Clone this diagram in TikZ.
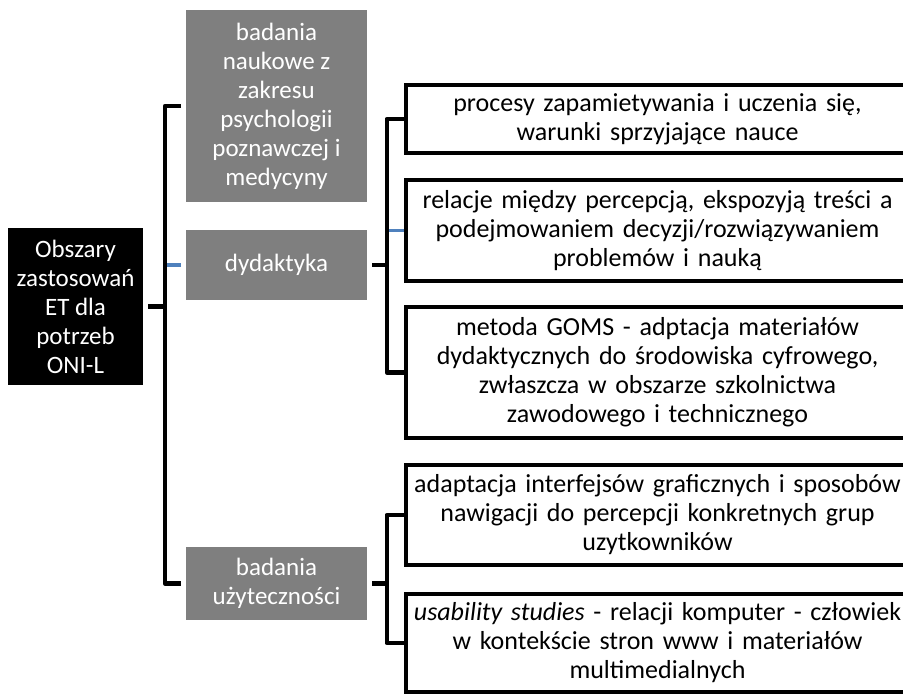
\documentclass[tikz,border=0pt]{standalone}
\usepackage{fontspec}
\setmainfont{Carlito}
\usepackage{xcolor}
\usepackage{tikz}
\definecolor{areagray}{HTML}{7F7F7F}
\definecolor{tickblue}{HTML}{4F81BD}
\tikzset{every node/.style={font=\fontsize{25}{29}\selectfont,align=center,inner sep=2pt},
    rootbox/.style={fill=black,text=white,minimum width=135pt,minimum height=157pt,outer sep=5pt},
    areabox/.style={fill=areagray,text=white,minimum width=181pt,outer sep=5pt},
    itembox/.style={draw,line width=4.5pt,minimum width=503pt,text width=495pt,
        font=\fontsize{26}{29}\selectfont},
    link/.style={draw,line width=4.5pt,line join=round},
    bluelink/.style={draw=tickblue,line width=3.5pt}}

\begin{document}
\begin{tikzpicture}[x=1pt,y=-1pt]
            \useasboundingbox (0,0) rectangle (903,694);
            \node[rootbox] (root) at (75.5,306.5) {Obszary\\zastosowań\\ET dla\\potrzeb\\ONI-L};
            \node[areabox,minimum height=192pt] (badania) at (276.5,106) {badania\\naukowe z\\zakresu\\psychologii\\poznawczej i\\medycyny};
            \node[areabox,minimum height=70pt] (dydaktyka) at (276.5,265) {dydaktyka};
            \node[areabox,minimum height=73pt] (uzytecznosc) at (276.5,583.5) {badania\\użyteczności};
            \node[itembox,minimum height=68pt] (proc) at (657.5,119) {procesy zapamietywania i uczenia się,\\warunki sprzyjające nauce};
            \node[itembox,minimum height=101pt] (rel) at (657.5,230.5) {relacje między percepcją, ekspozyją treści a\\podejmowaniem decyzji/rozwiązywaniem\\problemów i nauką};
            \node[itembox,minimum height=131pt] (goms) at (657.5,372.5) {metoda GOMS - adptacja materiałów\\dydaktycznych do środowiska cyfrowego,\\zwłaszcza w obszarze szkolnictwa\\zawodowego i technicznego};
            \node[itembox,minimum height=100pt] (interf) at (657.5,515) {adaptacja interfejsów graficznych i sposobów\\nawigacji do percepcji konkretnych grup\\uzytkowników};
            \node[itembox,minimum height=98pt] (usab) at (657.5,643) {\textit{usability studies} - relacji komputer - człowiek\\w kontekście stron www i materiałów\\multimedialnych};
            \path[bluelink] (dydaktyka.west) -- ++(-16,0);
            \path[bluelink] (rel.west) -- ++(-17,0);
            \path[link] (badania.west) -- ++(-16,0) coordinate (j1) |- (uzytecznosc.west);
            \path[link] (root.east) -- (root.east -| j1);
            \path[link] (proc.west) -- ++(-17,0) coordinate (j2) |- (goms.west);
            \path[link] (dydaktyka.east) -- (dydaktyka.east -| j2);
            \path[link] (interf.west) -- ++(-17,0) coordinate (j3) |- (usab.west);
            \path[link] (uzytecznosc.east) -- (uzytecznosc.east -| j3);
        \end{tikzpicture}
\end{document}
